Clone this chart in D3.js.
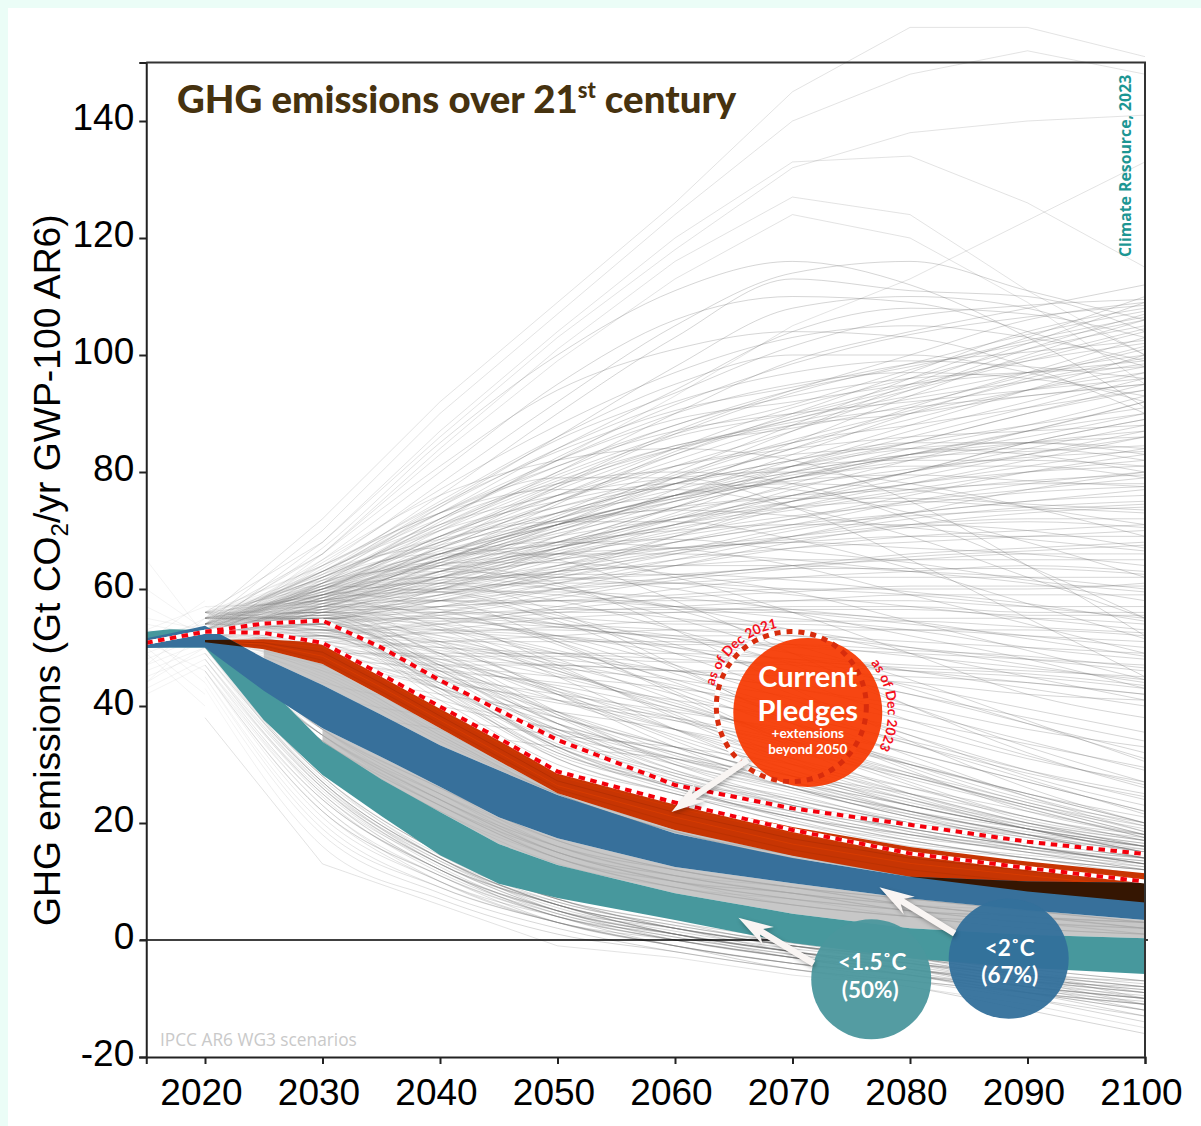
<!DOCTYPE html>
<html>
<head>
<meta charset="utf-8">
<script src="https://cdn.jsdelivr.net/npm/d3@7"></script>
<style>
  html, body { margin: 0; padding: 0; background: #ebfdf7; }
  svg { display: block; position: absolute; left: 0; top: 0; }
  .tick text { font-family: "Liberation Sans", sans-serif; font-size: 37px; fill: #000; }
</style>
</head>
<body>
<svg id="chart" width="1201" height="1126"></svg>
<script>
// every scenario has one value per decade
const decades = [2020, 2030, 2040, 2050, 2060, 2070, 2080, 2090, 2100];

// the few lines that stand out at the very top and bottom
const scenariosOutliers = [
  [55,72,92,109,126,145,156,156,151], [54,70,90,107,124,140,148,152,148], [56,68,86,103,118,132,138,140,141],
  [53,68,87,104,120,133,134,126,115], [55,66,84,101,116,127,124,111,100], [54,66,83,99,113,124,120,109,95],
  [52,61,72,82,93,105,113,123,133], [38,13,6,-1,-3,-6,-8,-11,-15]
];

// scenarios ending above about 85 Gt
const scenariosHigh = [
  [53,64,78,92,105,114,116,111,106], [55,63,76,90,103,113,111,110,104], [54,62,74,86,98,108,110,108,100],
  [56,62.5,73,84,94,104,108,107,103], [52,58,65,72,80,88,96,103,110], [54,60,70,80,90,99,104,108,112],
  [53,60.5,69,78,87,94,100,106,109], [55,59,67,75,83,90,97,104,108], [51,58.5,66,73,81,87,94,101,107],
  [53,57,63,71,79,87,95,102,109], [56,59.5,68,76,84,91,96,101,105], [52,61,72,81,88,94,98,102,106],
  [54,60,69,77,84,89,94,99,104], [53,56,62,69,77,85,93,100,106], [55,62,71,79,86,90,95,99,102],
  [51,57,64,71,78,84,91,97,103], [54,58.5,64,70,76,83,90,96,101], [56,63,73,82,89,92,95,97,99],
  [52,57.5,63,70,76,82,88,94,100], [53,59,66,72,78,84,89,94,98], [55,55.5,60,67,74,81,87,92,97],
  [54,60.5,68,75,81,85,90,94,97], [57,58,63,69,75,81,86,91,96], [52,56,61,67,73,80,85,90,95],
  [53,61.5,70,78,84,88,90,93,95], [55,59,65,71,76,81,85,90,94], [51,57,62,68,74,79,84,88,93],
  [54,58,63,68,74,79,83,87,92], [56,55,60,65,71,77,82,87,92], [53,60,67,73,78,82,85,88,91],
  [52,56.5,60,66,72,78,83,87,90], [55,59.5,65,70,75,79,83,86,90], [54,57,62,67,72,76,80,85,89],
  [51,54.5,58,63,69,75,80,85,89], [53,58.5,63,67,71,76,80,84,88], [56,61,69,76,81,84,86,87,88],
  [52,56,61,66,70,75,79,83,87], [55,59,66,71,75,79,82,85,87], [54,55,59,64,69,74,78,82,86],
  [53,60.5,66,71,76,80,83,85,86], [57,58,64,68,72,76,80,83,86], [52,65,80,95,106,110,109,104,98],
  [54,64.5,77,88,97,103,105,103,99], [55,63,74,84,92,97,99,98,96], [53,63.5,75,86,95,100,100,97,92],
  [51,66,81,94,101,104,103,98,90], [56,62,72,82,90,95,97,96,93], [54,67,85,100,111,116,112,103,91],
  [52,61.5,71,80,88,93,96,97,98], [55,59.5,67,75,82,88,91,93,95], [53,58,65,72,79,85,88,91,94],
  [54,63,73,81,87,90,92,94,96], [56,60,69,76,83,89,93,97,100], [52,62.5,74.5,85.5,93.5,101.5,106.5,108.5,109.5],
  [54,61,71.5,82.5,91.5,98.5,103.5,106.5,108.5], [55,58.5,67.5,77.5,86.5,93.5,98.5,103.5,107.5],
  [53,59.5,70.5,79.5,86.5,91.5,97.5,102.5,106.5], [51,57.5,65.5,74.5,83.5,89.5,94.5,99.5,104.5],
  [56,64,74.5,83.5,90.5,94.5,98.5,100.5,102.5], [54,60,68.5,77.5,84.5,87.5,91.5,96.5,101.5],
  [52,56.5,64.5,72.5,79.5,85.5,90.5,95.5,99.5], [55,62,70.5,78.5,84.5,88.5,92.5,95.5,98.5]
];

// scenarios that keep rising or stay flat, ending 40 to 85 Gt
const scenariosMid = [
  [53,57,62,67,71,75,78,81,84], [55,55.5,59,63,68,72,76,80,83], [52,58,63,67,71,74,77,80,82],
  [54,59,64,68,72,75,78,80,81], [56,56,60,64,68,71,75,78,80], [53,54,57,61,65,69,73,77,80],
  [51,57.5,62,66,69,72,75,77,79], [54,60,66,71,74,76,77,78,78], [55,55,58,62,66,70,73,75,77],
  [52,58.5,62,65,68,71,73,75,76], [53,56.5,59,63,66,69,72,74,75], [57,53,56,60,64,68,71,73,74],
  [54,59,65,69,72,74,75,74,73], [52,57,61,64,67,69,71,72,72], [55,55.5,58,61,64,67,69,70,71],
  [53,61,68,73,76,78,77,74,71], [51,56,59,62,65,67,68,69,70], [56,58,62,65,67,68,69,69,69],
  [54,54,56,59,62,64,66,67,68], [52,60,65,68,70,71,71,70,67], [55,55,57,60,62,64,65,66,66],
  [53,57,60,63,64,65,65,65,65], [54,59.5,63,66,67,68,67,66,64], [51,52,54,57,60,62,63,64,63],
  [56,56.5,58,60,61,62,62,62,62], [53,62,70,75,78,77,73,68,62], [52,55,57,58,59,60,60,60,61],
  [55,58,61,63,64,64,63,62,60], [54,53,54,56,57,58,59,59,59], [53,60,64,66,66,65,63,61,58],
  [51,56,57,58,58,58,58,57,57], [56,51,53,55,56,57,57,56,56], [52,57,60,61,61,60,59,57,55],
  [54,63,72,78,80,78,72,64,55], [55,55,56,56,56,56,55,55,54], [53,59,62,62,61,59,57,55,53],
  [52,54,55,55,54,54,53,53,52], [54,50,51,52,53,53,53,52,51], [56,56,58,58,57,56,54,52,50],
  [53,61,66,68,67,64,59,54,49], [51,53,53,53,52,52,51,50,49], [55,58,60,59,57,55,53,50,48],
  [52,52,51,51,51,50,49,48,47], [54,55,55,54,53,52,50,48,46], [53,64,73,79,79,74,65,55,45],
  [56,49,49,49,49,48,47,46,45], [52,57,58,57,55,53,50,47,44], [55,51,50,49,48,47,46,45,43],
  [54,60,63,62,60,56,52,48,43], [53,54,53,52,50,48,46,44,42], [51,48,47,47,46,46,45,44,42],
  [55,59,61,60,57,53,49,45,41], [52,50,48,47,46,45,44,42,41], [54,56,56,54,52,49,46,43,40],
  [53,65,76,82,84,82,75,64,52], [56,64,73,77,77,74,69,62,55], [52,63,71,76,79,80,78,74,69],
  [54,62,69,74,78,81,82,82,81], [55,60,67,73,78,82,85,85,84], [51,59,66,72,77,81,84,85,83],
  [53,61,68,74,79,83,84,83,80], [56,59,65,71,76,80,83,84,82], [54,58,65,71,76,79,81,81,79],
  [52,58.5,64.5,70.5,75.5,79.5,82.5,83.5,84.5], [55,57.5,62.5,67.5,72.5,77.5,80.5,82.5,83.5],
  [53,60.5,66.5,71.5,75.5,78.5,79.5,78.5,77.5], [54,56.5,61.5,66.5,70.5,73.5,76.5,78.5,79.5],
  [51,55.5,60.5,65.5,69.5,72.5,74.5,76.5,77.5], [56,59,64.5,69.5,73.5,75.5,75.5,74.5,73.5],
  [53,54.5,58.5,62.5,66.5,70.5,72.5,73.5,74.5], [52,57.5,60.5,63.5,66.5,68.5,70.5,71.5,70.5],
  [55,61.5,67.5,71.5,73.5,72.5,70.5,68.5,66.5], [54,53.5,55.5,58.5,61.5,63.5,65.5,66.5,67.5],
  [52,56.5,59.5,61.5,62.5,63.5,63.5,63.5,62.5], [56,60.5,65.5,67.5,68.5,66.5,64.5,61.5,59.5],
  [53,52.5,54.5,56.5,58.5,59.5,60.5,60.5,60.5], [51,58.5,61.5,62.5,62.5,61.5,59.5,57.5,54.5],
  [55,54.5,55.5,56.5,56.5,56.5,56.5,55.5,55.5], [54,62.5,68.5,71.5,71.5,68.5,63.5,57.5,51.5],
  [52,51.5,52.5,53.5,54.5,54.5,54.5,53.5,52.5], [53,57.5,59.5,59.5,58.5,56.5,54.5,51.5,48.5],
  [56,52.5,52.5,51.5,50.5,50.5,49.5,48.5,46.5], [54,60.5,64.5,64.5,62.5,59.5,54.5,49.5,44.5],
  [52,55.5,54.5,53.5,51.5,50.5,48.5,46.5,44.5], [55,49.5,48.5,48.5,47.5,47.5,46.5,45.5,43.5]
];

// scenarios that peak and then fall, ending 10 to 40 Gt
const scenariosFalling = [
  [53,62,66,66,62,56,49,42,38], [55,57,57,54,50,46,42,38,34], [52,60,62,60,55,49,43,37,31],
  [54,55,54,52,49,46,42,37,32], [56,52,50,48,46,43,40,36,33], [53,59,60,58,53,47,40,33,27],
  [51,54,52,49,46,43,39,34,29], [54,63,67,65,58,49,40,32,26], [55,56,55,52,47,41,35,29,24],
  [52,58,58,55,49,42,35,28,23], [53,50,47,45,43,40,36,31,27], [56,53,51,47,42,37,32,27,22],
  [54,61,64,61,53,43,34,26,20], [52,55,53,49,43,36,30,25,21], [55,49,46,44,41,38,34,29,25],
  [53,57,56,51,44,37,30,24,20], [51,52,49,45,40,35,30,25,20], [54,60,61,56,47,37,29,22,18],
  [56,54,51,46,40,34,28,23,19], [52,48,45,42,39,36,32,27,22], [55,56,54,48,41,34,27,21,18],
  [53,51,48,43,38,33,28,23,18], [54,59,58,51,42,33,25,20,17], [51,47,44,41,38,34,30,25,20],
  [55,55,52,46,39,31,25,20,16], [53,52,48,42,36,30,25,20,16], [52,58,55,47,38,30,24,19,15],
  [56,50,46,41,36,31,26,21,17], [54,54,50,43,36,29,23,19,15], [53,46,42,39,36,32,28,23,18],
  [55,57,53,45,36,28,22,18,15], [52,53,49,42,34,27,22,18,14], [54,50,45,39,33,28,23,19,15],
  [51,56,51,42,33,26,21,17,14], [53,48,43,38,33,28,24,19,15], [56,52,47,39,32,26,21,17,14],
  [52,54,47,38,30,25,20,17,14], [54,49,43,37,31,26,22,18,14], [55,55,49,39,30,24,20,16,14],
  [53,47,41,36,31,27,23,19,16], [51,51,44,36,29,24,20,16,13], [54,53,46,37,29,23,19,16,13],
  [52,54,47,37,28,23,19,16,13], [56,50,43,34,28,23,19,16,13], [53,52,44,35,27,22,18,15,13],
  [55,51,43,33,27,22,18,15,12], [52,54,46,35,26,21,18,15,12], [54,53,44,33,26,21,17,14,12],
  [53,55,45,33,26,22,19,16,14], [51,52,42,32,26,21,18,16,13], [55,54,43,31,25,21,17,14,12],
  [52,52,41,30,25,20,17,14,12], [54,53,42,31,25,20,16,14,11], [53,53,43,32,27,23,20,17,15],
  [56,54,44,33,27,24,20,18,16], [52,55,46,36,30,26,22,19,16], [54,56,47,37,32,27,23,19,16],
  [53,53,44,35,31,26,21,18,15], [55,56,49,41,35,29,24,20,17], [51,52,45,38,33,28,23,19,16],
  [50,42,38,35,33,30,26,22,18], [49,40,36,33,31,28,25,21,17], [51,44,40,36,32,27,22,18,14],
  [53,54.5,44.5,32.5,25.5,21.5,17.5,15.5,13.5], [55,53.5,42.5,31.5,26.5,22.5,18.5,15.5,12.5],
  [52,52.5,43.5,33.5,27.5,22.5,19.5,16.5,14.5], [54,54.5,45.5,34.5,28.5,23.5,18.5,15.5,13.5],
  [53,55.5,46.5,35.5,28.5,24.5,20.5,17.5,14.5], [56,53.5,44.5,34.5,26.5,20.5,16.5,14.5,12.5],
  [51,56.5,48.5,38.5,30.5,25.5,21.5,18.5,15.5], [54,55.5,47.5,38.5,31.5,26.5,21.5,17.5,15.5],
  [52,57.5,50.5,42.5,34.5,28.5,23.5,19.5,16.5], [55,58.5,53.5,46.5,38.5,30.5,24.5,19.5,16.5],
  [53,59.5,56.5,50.5,42.5,33.5,26.5,20.5,17.5], [54,60.5,59.5,54.5,46.5,37.5,29.5,23.5,19.5],
  [52,50.5,46.5,43.5,39.5,35.5,30.5,24.5,19.5], [56,48.5,44.5,40.5,37.5,33.5,28.5,23.5,18.5],
  [53,51.5,47.5,42.5,37.5,32.5,27.5,22.5,17.5], [55,53.5,50.5,45.5,40.5,34.5,28.5,22.5,17.5],
  [51,55.5,53.5,49.5,44.5,38.5,31.5,24.5,18.5], [54,57.5,55.5,51.5,45.5,39.5,33.5,27.5,21.5],
  [52,54.5,51.5,47.5,43.5,38.5,33.5,28.5,24.5], [53,58.5,59.5,55.5,50.5,44.5,37.5,31.5,26.5],
  [55,61.5,63.5,60.5,56.5,50.5,44.5,37.5,30.5], [54,52.5,49.5,46.5,44.5,41.5,37.5,33.5,29.5],
  [52,56.5,56.5,53.5,51.5,47.5,43.5,39.5,35.5]
];

// low scenarios showing around the coloured bands
const scenariosLow = [
  // between the red and blue bands
  [51,47,36,26,19,15,11,9,7], [52,46,35.5,25.5,19,14.5,11,9,7], [51,46.5,35,25,18.5,14.5,11,9,6],
  [52,45.5,35,25,18.5,14.5,11,8.5,6], [51,45,34.5,25,18.5,14,10.5,8.5,6], [52,44.5,34,25,18.5,14,10.5,9,7],
  // between the blue and teal bands
  [52,36,25,16,12,9,6,4,3], [51,35,24,15,11,9,6,4,2], [53,36,26,17,12,9,7,5,3], [50,35,24,15,10,7,5,3,2],
  [52,34,23,14,10,7,5,3,1], [51,35,25,16,11,8,6,4,3], [53,36,25,15,11,8,5,4,2], [50,34,23,14,9,6,4,2,1],
  [52,35,24,16,12,9,7,5,3], [51,34,22,14,9,6,4,3,2], [53,35,23,15,10,8,5,4,3], [50,36,26,17,12,9,6,4,2],
  [52,34,24,15,10,7,4,2,1], [51,35,23,14,9,7,5,3,2], [53,36,24,16,11,8,6,5,3], [50,34,22,13,9,6,4,3,1],
  [52,35,25,17,12,9,7,5,3], [51,34,23,15,10,6,4,2,1], [53,35,24,14,10,8,5,4,2], [52,36,26,16,11,8,6,4,3],
  // below the teal band
  [50,28,15,7,3,-1,-3,-5,-7], [49,27,14,6,2,-1,-4,-6,-8], [50,26,13,6,1,-2,-4,-7,-9], [48,25,13,5,1,-2,-5,-7,-9],
  [49,27,14,7,2,-1,-3,-6,-8], [47,24,12,5,1,-3,-5,-8,-10], [50,28,14,6,2,-2,-4,-6,-8], [47,23,11,4,0,-3,-6,-9,-12],
  [49,26,13,5,1,-2,-5,-8,-11], [46,22,10,4,0,-3,-5,-8,-10], [48,25,12,5,0,-3,-5,-7,-9], [46,21,10,3,-1,-4,-6,-9,-12],
  [50,27,13,6,2,-1,-3,-5,-7], [45,20,9,3,-1,-4,-7,-10,-13], [47,24,12,4,0,-3,-6,-8,-10], [45,19,9,3,-1,-5,-7,-9,-11],
  [49,28,15,7,3,0,-3,-6,-10], [46,22,11,4,-1,-4,-6,-10,-14], [48,26,13,6,1,-2,-4,-7,-10], [44,18,8,2,-2,-5,-8,-12,-16],
  [50,27,14,5,1,-2,-4,-6,-7], [46,22,11,3,-1,-4,-6,-8,-10], [47,25,12,5,2,-1,-3,-6,-9], [43,16,7,1,-2,-5,-7,-9,-11],
  [48,26,14,6,2,-1,-4,-8,-12], [46,23,10,3,0,-3,-6,-9,-11], [50,28,15,7,2,-1,-3,-7,-11], [46,24,12,4,1,-2,-5,-7,-8],
  [49,27,14,6,1,-2,-5,-9,-13], [49,27.5,14.5,6.5,2.5,-0.5,-2.5,-5.5,-7.5], [48,26.5,13.5,5.5,1.5,-1.5,-3.5,-6.5,-8.5],
  [47,25.5,12.5,4.5,0.5,-2.5,-4.5,-7.5,-9.5], [50,26.5,13.5,6.5,2.5,-0.5,-3.5,-6.5,-8.5], [48,24.5,11.5,4.5,0.5,-2.5,-5.5,-8.5,-10.5]
];

// fan of history values between 2015 and 2020
const stubYears = [2015, 2020];
const stubValues = [
  [65,52], [60,53], [57,52], [55,53], [54,52], [53,51], [52,54], [50,55], [49,53], [48,52], [47,51], [46,50],
  [45,49], [44,50], [43,48], [42,47], [51,46], [52,44], [50,42], [49,40], [53,57], [51,58], [47,55], [44,53]
];

// coloured bands
const bandYears = [2015, 2017, 2020, 2025, 2030, 2035, 2040, 2045, 2050, 2060, 2070, 2080, 2090, 2100];
const tealTop =    [52.7, 53.1, 53.0, 44.0, 33.9, 27.5, 21.9, 16.4, 12.8, 8.0, 4.5, 2.0, 0.9, 0.3];
const tealBottom = [50.0, 50.0, 50.0, 37.6, 28.2, 21.2, 14.5, 9.6, 7.2, 3.4, -0.5, -3.1, -4.8, -5.8];
const blueTop =    [51.6, 52.4, 53.7, 48.2, 43.6, 38.5, 33.3, 29.0, 24.8, 18.2, 14.0, 10.8, 10.0, 9.8];
const blueBottom = [49.9, 50.0, 50.0, 42.6, 36.2, 31.3, 26.2, 21.0, 17.4, 12.5, 9.7, 7.1, 5.1, 3.4];
const pledgeYears = [2020, 2025, 2030, 2035, 2040, 2045, 2050, 2060, 2070, 2080, 2090, 2100];
const redTop =    [51.3, 51.4, 50.8, 45.4, 39.9, 34.5, 28.8, 23.6, 19.3, 15.9, 13.4, 11.4];
const redBottom = [50.9, 49.7, 47.2, 41.8, 36.2, 30.6, 25.1, 18.8, 14.4, 10.8, 8.3, 6.4];
// streaks inside the red band
const redStreaks = [
  [51.2, 51.0, 50.0, 44.6, 39.0, 33.6, 28.0, 22.6, 18.2, 14.9, 12.6, 10.6],
  [51.1, 50.8, 49.2, 43.9, 38.3, 32.8, 27.2, 21.8, 17.3, 14.0, 11.8, 9.9],
  [51.0, 50.6, 48.5, 43.2, 37.6, 32.0, 26.4, 21.0, 16.4, 13.1, 11.0, 9.0],
  [51.0, 50.3, 47.8, 42.5, 36.9, 31.3, 25.8, 20.0, 15.4, 12.0, 9.9, 8.0]
];

// dashed pledge outlines
const dashYears = [2015, 2020, 2025, 2030, 2035, 2040, 2045, 2050, 2060, 2070, 2080, 2090, 2100];
const pledges2021 = [50.8, 52.7, 54.1, 54.6, 50.0, 44.4, 39.3, 34.2, 26.5, 22.5, 19.7, 16.8, 14.7];
const pledges2023 = [50.8, 52.7, 52.5, 50.8, 45.4, 39.9, 34.5, 28.8, 23.5, 18.8, 14.8, 12.3, 10.0];

// callout positions as [year, value]
const pledgeCentre = [2071.3, 38.9];
const ringCentre = [2069.9, 39.9];
const callout15 = [2076.7, -6.7];
const callout2 = [2088.4, -3.2];
const arrowLines = [
  { from: [2066.2, 30.8], to: [2059.7, 21.9] },
  { from: [2083.8, 1.1], to: [2077.4, 9.0] },
  { from: [2071.8, -4.0], to: [2065.4, 3.8] }
];

const xTicks = [2020, 2030, 2040, 2050, 2060, 2070, 2080, 2090, 2100];
const yTicks = [-20, 0, 20, 40, 60, 80, 100, 120, 140];

const svg = d3.select('#chart');
const x = d3.scaleLinear().domain([2015, 2100]).range([146.25, 1145]);
const y = d3.scaleLinear().domain([-20, 150]).range([1057, 62.5]);

// page card
svg.append('rect').attr('x', 8).attr('y', 8).attr('width', 1193).attr('height', 1118).attr('fill', '#fff');

const line = d3.line().x(d => x(d[0])).y(d => y(d[1]));
const smooth = d3.line().curve(d3.curveMonotoneX).x(d => x(d[0])).y(d => y(d[1]));
const area = d3.area().x(d => x(d[0])).y0(d => y(d[1])).y1(d => y(d[2]));

// the fan is pale until the scenarios spread out
const fade = svg.append('defs').append('linearGradient').attr('id', 'fade')
  .attr('gradientUnits', 'userSpaceOnUse').attr('x1', x(2020)).attr('x2', x(2050)).attr('y1', 0).attr('y2', 0);
fade.append('stop').attr('offset', 0).attr('stop-color', '#6a6a6a').attr('stop-opacity', 0.05);
fade.append('stop').attr('offset', 0.33).attr('stop-color', '#6a6a6a').attr('stop-opacity', 0.16);
fade.append('stop').attr('offset', 1).attr('stop-color', '#6a6a6a').attr('stop-opacity', 0.28);

// grey scenarios
const outliers = svg.append('g').attr('fill', 'none').attr('stroke', '#6e6e6e').attr('stroke-width', 0.9).attr('stroke-opacity', 0.22);
scenariosOutliers.forEach(values => {
  outliers.append('path').attr('d', line(values.map((v, i) => [decades[i], v])));
});
const grey = svg.append('g').attr('fill', 'none').attr('stroke', 'url(#fade)').attr('stroke-width', 1);
[...scenariosHigh, ...scenariosMid, ...scenariosFalling, ...scenariosLow].forEach(values => {
  grey.append('path').attr('d', smooth(values.map((v, i) => [decades[i], v])));
});
const stubs = svg.append('g').attr('fill', 'none').attr('stroke', '#8a8a8a').attr('stroke-width', 0.9).attr('stroke-opacity', 0.12);
stubValues.forEach(values => {
  stubs.append('path').attr('d', line(values.map((v, i) => [stubYears[i], v])));
});

// zero line goes under the bands
svg.append('line').attr('x1', 140).attr('x2', 1148).attr('y1', y(0)).attr('y2', y(0)).attr('stroke', '#000').attr('stroke-width', 1.5);

const tealData = bandYears.map((yr, i) => [yr, tealBottom[i], tealTop[i]]);
const blueData = bandYears.map((yr, i) => [yr, blueBottom[i], blueTop[i]]);
const redData = pledgeYears.map((yr, i) => [yr, redBottom[i], redTop[i]]);

// the scenarios pack solid between the bands
const gapBlueTeal = bandYears.map((yr, i) => [yr, tealTop[i], blueBottom[i]]).filter(d => d[0] >= 2030);
const gapRedBlue = pledgeYears.map((yr, i) => [yr, blueTop[bandYears.indexOf(yr)], redBottom[i]]).filter(d => d[0] >= 2025 && d[0] <= 2080);
svg.append('path').attr('d', area(gapBlueTeal)).attr('fill', '#b4b4b4').attr('fill-opacity', 0.75);
svg.append('path').attr('d', area(gapRedBlue)).attr('fill', '#b4b4b4').attr('fill-opacity', 0.75);

svg.append('path').attr('d', area(tealData)).attr('fill', '#47989d');
svg.append('path').attr('d', area(redData)).attr('fill', '#c73503');
const streaks = ['#d63a00', '#b02c02', '#dc3e00', '#b83002'];
redStreaks.forEach((values, i) => {
  svg.append('path').attr('d', line(values.map((v, j) => [pledgeYears[j], v])))
    .attr('fill', 'none').attr('stroke', streaks[i]).attr('stroke-width', 0.7);
});
svg.append('path').attr('d', area(blueData)).attr('fill', '#37709b');

// red over blue turns nearly black
svg.append('clipPath').attr('id', 'redClip').append('path').attr('d', area(redData));
svg.append('path').attr('d', area(blueData)).attr('fill', '#351602').attr('clip-path', 'url(#redClip)');

// dashed outlines
[pledges2021, pledges2023].forEach(values => {
  const d = line(values.map((v, i) => [dashYears[i], v]));
  svg.append('path').attr('d', d).attr('fill', 'none').attr('stroke', '#fff').attr('stroke-width', 4);
  svg.append('path').attr('d', d).attr('fill', 'none').attr('stroke', '#f4000c').attr('stroke-width', 4).attr('stroke-dasharray', '6.5 5.5');
});

// frame and axes
const axisX = svg.append('g').attr('transform', `translate(0,${y(-20)})`)
  .call(d3.axisBottom(x).tickValues(xTicks).tickFormat(d3.format('d')).tickSize(7).tickPadding(15));
axisX.selectAll('text').attr('dx', -4);
const axisY = svg.append('g').attr('transform', `translate(${x(2015)},0)`)
  .call(d3.axisLeft(y).tickValues(yTicks).tickSize(7).tickPadding(5).tickFormat(d => d));
axisY.selectAll('text').attr('dy', '0.24em');
[axisX, axisY].forEach(a => {
  a.selectAll('.domain').attr('stroke', '#222').attr('stroke-width', 2);
  a.selectAll('line').attr('stroke', '#222').attr('stroke-width', 2);
});
svg.append('path').attr('d', `M${x(2015)},${y(150)}H${x(2100)}V${y(-20)}`).attr('fill', 'none').attr('stroke', '#333').attr('stroke-width', 2);

// y title
const yTitle = svg.append('text').attr('transform', 'translate(60,926) rotate(-90)')
  .attr('font-family', '"Liberation Sans", sans-serif').attr('font-size', 37.3).attr('fill', '#000');
yTitle.append('tspan').text('GHG emissions (Gt CO');
yTitle.append('tspan').attr('font-size', 24).attr('dy', 8).text('2');
yTitle.append('tspan').attr('dy', -8).text('/yr GWP-100 AR6)');

// chart title
const title = svg.append('text').attr('x', 177).attr('y', 113)
  .attr('font-family', 'Lato, sans-serif').attr('font-weight', 900).attr('font-size', 38.4).attr('fill', '#46320f');
title.append('tspan').text('GHG emissions over 21');
title.append('tspan').attr('font-size', 22).attr('dy', -15).text('st');
title.append('tspan').attr('dy', 15).text(' century');

svg.append('text').attr('transform', 'translate(1131,257) rotate(-90)')
  .attr('font-family', '"Open Sans", sans-serif').attr('font-weight', 700).attr('font-size', 15.8).attr('fill', '#1c9693')
  .text('Climate Resource, 2023');
svg.append('text').attr('x', 160).attr('y', 1046)
  .attr('font-family', '"Open Sans", sans-serif').attr('font-size', 17.3).attr('fill', '#c9c9c9')
  .text('IPCC AR6 WG3 scenarios');

// current pledges callout
const rcx = x(ringCentre[0]), rcy = y(ringCentre[1]);
const pcx = x(pledgeCentre[0]), pcy = y(pledgeCentre[1]);
svg.append('circle').attr('cx', rcx).attr('cy', rcy).attr('r', 75).attr('fill', 'none').attr('stroke', '#fff').attr('stroke-width', 5);
svg.append('circle').attr('cx', pcx).attr('cy', pcy).attr('r', 74.5).attr('fill', '#f63800').attr('fill-opacity', 0.93);
svg.append('circle').attr('cx', rcx).attr('cy', rcy).attr('r', 75).attr('fill', 'none').attr('stroke', '#d82c0c').attr('stroke-width', 5).attr('stroke-dasharray', '6 6');

function arcPath(cx, cy, r, a0, a1) {
  const rad = Math.PI / 180;
  return `M${cx + r * Math.cos(a0 * rad)},${cy + r * Math.sin(a0 * rad)}A${r},${r} 0 0 1 ${cx + r * Math.cos(a1 * rad)},${cy + r * Math.sin(a1 * rad)}`;
}
svg.append('path').attr('id', 'arc2021').attr('d', arcPath(rcx, rcy, 80, 195, 268)).attr('fill', 'none');
svg.append('path').attr('id', 'arc2023').attr('d', arcPath(pcx, pcy, 80, -38, 30)).attr('fill', 'none');
[['#arc2021', 'as of Dec 2021'], ['#arc2023', 'as of Dec 2023']].forEach(([id, label]) => {
  svg.append('text').attr('font-family', 'Lato, sans-serif').attr('font-weight', 700).attr('font-size', 13.6).attr('fill', '#f5101c')
    .append('textPath').attr('href', id).text(label);
});

function calloutText(cx, baseline, label, size, weight) {
  svg.append('text').attr('x', cx).attr('y', baseline).attr('text-anchor', 'middle')
    .attr('font-family', 'Lato, sans-serif').attr('font-weight', weight).attr('font-size', size).attr('fill', '#fff').text(label);
}
calloutText(pcx, 687, 'Current', 29, 700);
calloutText(pcx, 721, 'Pledges', 29, 700);
calloutText(pcx, 737.5, '+extensions', 13.5, 700);
calloutText(pcx, 754, 'beyond 2050', 13.5, 700);

// temperature callouts
svg.append('circle').attr('cx', x(callout15[0])).attr('cy', y(callout15[1])).attr('r', 60).attr('fill', '#4b979d').attr('fill-opacity', 0.95);
svg.append('circle').attr('cx', x(callout2[0])).attr('cy', y(callout2[1])).attr('r', 60).attr('fill', '#33709b').attr('fill-opacity', 0.95);
calloutText(x(callout15[0]) + 1, 970, '<1.5˚C', 22.5, 700);
calloutText(x(callout15[0]) - 1, 998, '(50%)', 22.5, 700);
calloutText(x(callout2[0]) + 1, 956, '<2˚C', 22.5, 700);
calloutText(x(callout2[0]) + 1, 983, '(67%)', 22.5, 700);

// arrows
arrowLines.forEach(a => {
  const [x0, y0] = [x(a.from[0]), y(a.from[1])];
  const [x1, y1] = [x(a.to[0]), y(a.to[1])];
  const len = Math.hypot(x0 - x1, y0 - y1);
  const ux = (x0 - x1) / len, uy = (y0 - y1) / len;
  const pt = (along, side) => [x1 + ux * along - uy * side, y1 + uy * along + ux * side];
  const pts = [pt(0, 0), pt(35, 10.5), pt(27, 3.2), pt(len, 3.2), pt(len, -3.2), pt(27, -3.2), pt(35, -10.5)];
  svg.append('polygon').attr('points', pts.map(p => p.join(',')).join(' '))
    .attr('fill', '#f9f5f3').style('filter', 'drop-shadow(1px 2px 2px rgba(0,0,0,0.3))');
});
</script>
</body>
</html>
